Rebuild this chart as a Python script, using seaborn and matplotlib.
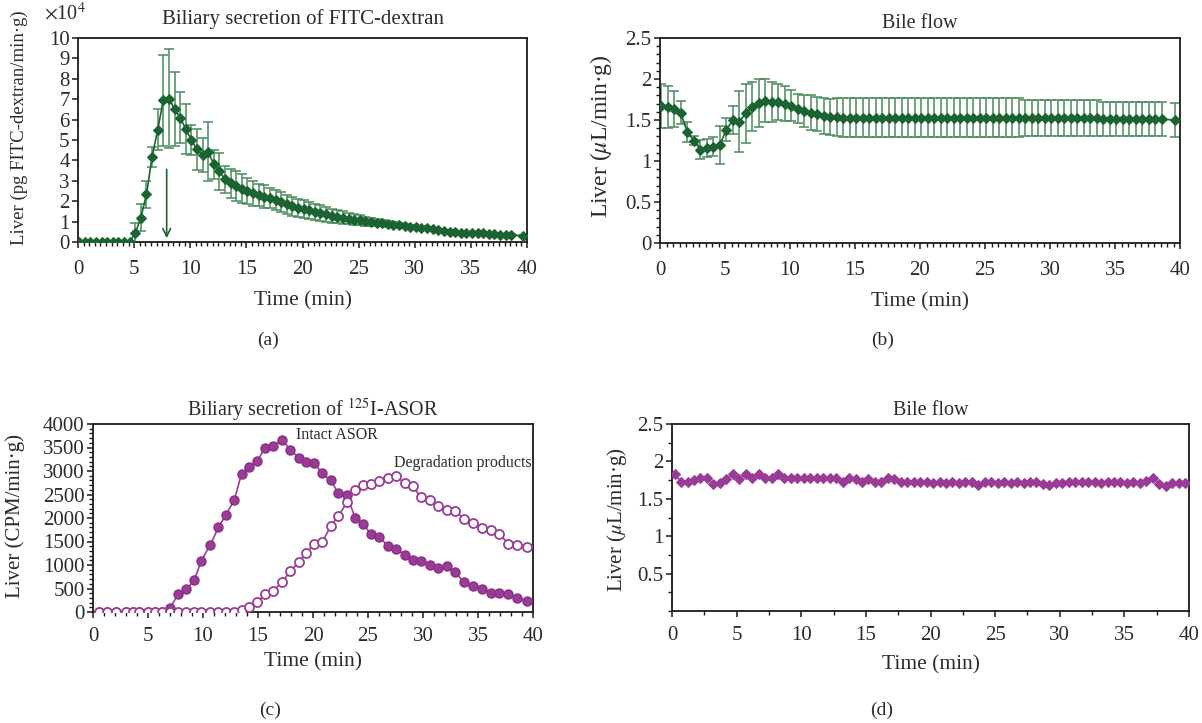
import numpy as np
import matplotlib
matplotlib.use("Agg")
import matplotlib.pyplot as plt
import seaborn as sns
from matplotlib.ticker import MultipleLocator, FuncFormatter, FixedLocator

# ---------------- data ----------------
# (a) biliary secretion of FITC-dextran (x10^4 pg/min.g), mean and error
time_a = [0.1, 0.6, 1.1, 1.6, 2.1, 2.6, 3.1, 3.6, 4.1, 4.6, 5.1, 5.6, 6.1, 6.6, 7.1, 7.6, 8.1, 8.6,
          9.1, 9.6, 10.1, 10.6, 11.1, 11.6, 12.1, 12.6, 13.1, 13.6, 14.1, 14.6, 15.1, 15.6, 16.1,
          16.6, 17.1, 17.6, 18.1, 18.6, 19.1, 19.6, 20.1, 20.6, 21.1, 21.6, 22.1, 22.6, 23.1, 23.6,
          24.1, 24.6, 25.1, 25.6, 26.1, 26.6, 27.1, 27.6, 28.1, 28.6, 29.1, 29.6, 30.1, 30.6, 31.1,
          31.6, 32.1, 32.6, 33.1, 33.6, 34.1, 34.6, 35.1, 35.6, 36.1, 36.6, 37.1, 37.6, 38.1, 38.6,
          39.6]
fitc_mean = [0, 0, 0, 0, 0, 0, 0, 0, 0, 0,
             0.43, 1.2, 2.33, 4.17, 5.5, 6.95, 7.03, 6.53, 6.09, 5.54, 5.0, 4.55, 4.27, 4.42,
             3.81, 3.47, 3.07, 2.87, 2.74, 2.61, 2.49, 2.38, 2.30, 2.22, 2.15, 2.05, 1.95, 1.85,
             1.75, 1.68, 1.62, 1.55, 1.48, 1.42, 1.35, 1.28, 1.24, 1.20, 1.15, 1.10, 1.06, 1.02,
             0.98, 0.95, 0.92, 0.88, 0.84, 0.81, 0.78, 0.75, 0.72, 0.70, 0.67, 0.64, 0.60, 0.55,
             0.50, 0.47, 0.46, 0.45, 0.44, 0.43, 0.42, 0.40, 0.38, 0.36, 0.35, 0.34, 0.30]
fitc_err = [0, 0, 0, 0, 0, 0, 0, 0, 0, 0,
            0.5, 0.64, 0.66, 0.5, 1.0, 2.24, 2.42, 1.82, 1.24, 1.22, 0.75, 1.0, 0.85, 1.45,
            0.7, 0.9, 0.65, 0.7, 0.75, 0.7, 0.65, 0.6, 0.55, 0.55, 0.5, 0.5, 0.48, 0.47, 0.46,
            0.45, 0.44, 0.42, 0.4, 0.38, 0.36, 0.34, 0.32, 0.3, 0.28, 0.26, 0.24, 0.22, 0.2,
            0.17, 0.15, 0.13, 0.12, 0.1, 0.09, 0.08, 0.07, 0.06, 0.05, 0.05, 0.04, 0.04,
            0.04, 0.04, 0.04, 0.04, 0.04, 0.04, 0.03, 0.03, 0.03, 0.03, 0.03, 0.03, 0.03]
arrow_time = 7.9

# (b) bile flow during FITC-dextran (uL/min.g)
time_b = time_a
flow_b_mean = [1.675, 1.66, 1.63, 1.59, 1.35, 1.25, 1.14, 1.155, 1.175, 1.195,
               1.38, 1.50, 1.48, 1.58, 1.66, 1.71, 1.735, 1.72, 1.715, 1.70,
               1.675, 1.64, 1.61, 1.59, 1.57, 1.55, 1.54, 1.535,
               1.53, 1.53, 1.53, 1.53, 1.53, 1.53, 1.53, 1.53, 1.53, 1.53, 1.53, 1.53, 1.53, 1.53,
               1.53, 1.53, 1.53, 1.53, 1.53, 1.53, 1.53, 1.53, 1.53, 1.53, 1.53, 1.53, 1.53, 1.53,
               1.52, 1.52, 1.52, 1.52, 1.52, 1.52, 1.52, 1.52, 1.52, 1.52, 1.52, 1.52,
               1.51, 1.51, 1.51, 1.51, 1.51, 1.51, 1.51, 1.51, 1.51, 1.51, 1.50]
flow_b_err = [0.27, 0.26, 0.22, 0.14, 0.12, 0.05, 0.12, 0.11, 0.12, 0.23,
              0.14, 0.17, 0.37, 0.36, 0.30, 0.29, 0.265, 0.24, 0.22, 0.21,
              0.19, 0.18, 0.19, 0.21, 0.21, 0.22, 0.22, 0.23,
              0.235, 0.235, 0.235, 0.235, 0.235, 0.235, 0.235, 0.235, 0.235, 0.235, 0.235, 0.235,
              0.235, 0.235, 0.235, 0.235, 0.235, 0.235, 0.235, 0.235, 0.235, 0.235, 0.235, 0.235,
              0.235, 0.235, 0.235, 0.235,
              0.22, 0.22, 0.22, 0.22, 0.22, 0.22, 0.22, 0.22, 0.22, 0.22, 0.22, 0.22,
              0.21, 0.21, 0.21, 0.21, 0.21, 0.21, 0.21, 0.21, 0.21, 0.21, 0.21]

# (c) biliary secretion of 125I-ASOR (CPM/min.g)
time_c = [0.5, 1.25, 2.1, 3.0, 3.6, 4.2, 5.0, 5.65, 6.3, 7.0, 7.75, 8.45, 9.2, 9.85, 10.65,
          11.4, 12.1, 12.85, 13.5, 14.2, 14.95, 15.65, 16.4, 17.2, 17.95, 18.7, 19.4, 20.06,
          20.85, 21.6, 22.3, 23.07, 23.83, 24.5, 25.28, 26.03, 26.78, 27.5, 28.35, 29.07, 29.83,
          30.62, 31.37, 32.15, 32.94, 33.7, 34.5, 35.33, 36.14, 36.9, 37.76, 38.55, 39.45]
intact_asor = [0, 0, 0, 0, 0, 0, 0, 0, 0,
               92, 375, 480, 671, 1095, 1420, 1802, 2070, 2390, 2940, 3095, 3215, 3500, 3540,
               3660, 3450, 3285, 3190, 3170, 2954, 2798, 2530, 2500, 2000, 1880, 1660, 1597,
               1413, 1343, 1223, 1117, 1081, 996, 940, 975, 848, 636, 551, 480, 410, 410, 375,
               304, 233]
degradation = [0, 0, 0, 0, 0, 0, 0, 0, 0, 0, 0, 0, 0, 0, 0, 0, 0, 0,
               42, 106, 212, 375, 445, 643, 870, 1060, 1250, 1440, 1491, 1823, 2035, 2332,
               2600, 2692, 2728, 2791, 2848, 2898, 2742, 2671, 2438, 2375, 2247, 2162, 2155,
               1979, 1894, 1788, 1753, 1668, 1456, 1435, 1385]
label_intact = "Intact ASOR"
label_degr = "Degradation products"

# (d) bile flow during ASOR (uL/min.g)
time_d = [0.2, 0.7, 1.2, 1.7, 2.2, 2.7, 3.2, 3.7, 4.2, 4.7, 5.2, 5.7, 6.2, 6.7, 7.2, 7.7, 8.2,
          8.7, 9.2, 9.7, 10.2, 10.7, 11.2, 11.7, 12.2, 12.7, 13.2, 13.7, 14.2, 14.7, 15.2, 15.7,
          16.2, 16.7, 17.2, 17.7, 18.2, 18.7, 19.2, 19.7, 20.2, 20.7, 21.2, 21.7, 22.2, 22.7,
          23.2, 23.7, 24.2, 24.7, 25.2, 25.7, 26.2, 26.7, 27.2, 27.7, 28.2, 28.7, 29.2, 29.7,
          30.2, 30.7, 31.2, 31.7, 32.2, 32.7, 33.2, 33.7, 34.2, 34.7, 35.2, 35.7, 36.2, 36.7,
          37.2, 37.7, 38.2, 38.7, 39.2, 39.7]
flow_d = [1.83, 1.73, 1.73, 1.75, 1.78, 1.78, 1.70, 1.71, 1.76, 1.83,
          1.77, 1.83, 1.78, 1.83, 1.78, 1.78, 1.83, 1.78, 1.78, 1.78,
          1.78, 1.78, 1.78, 1.78, 1.78, 1.78, 1.73, 1.78, 1.76, 1.72,
          1.77, 1.72, 1.73, 1.78, 1.77, 1.73, 1.73, 1.73, 1.73, 1.73,
          1.71, 1.73, 1.71, 1.73, 1.71, 1.73, 1.72, 1.69, 1.73, 1.73,
          1.71, 1.73, 1.71, 1.73, 1.71, 1.73, 1.72, 1.70, 1.68, 1.71,
          1.71, 1.73, 1.73, 1.73, 1.73, 1.73, 1.71, 1.73, 1.72, 1.73,
          1.71, 1.72, 1.71, 1.74, 1.78, 1.70, 1.67, 1.71, 1.71, 1.71]

# ---------------- style ----------------
sns.set_theme(style="ticks")
plt.rcParams["font.family"] = ["Liberation Serif", "DejaVu Serif"]
plt.rcParams["mathtext.fontset"] = "stix"
TXT = "#2b2b2b"
GREEN = "#1b6331"
GREEN_ERR = "#4a8a5b"
PURPLE = "#9a3c96"
TT = 14.5    # titles
XL = 15.5    # x labels
TK = 15      # tick labels

W, H = 1202, 723
fig = plt.figure(figsize=(W / 100, H / 100), dpi=100)
fig.patch.set_facecolor("white")


def box(l, t, r, b):
    return [l / W, 1 - b / H, (r - l) / W, (b - t) / H]


axA = fig.add_axes(box(78, 38, 527, 242))
axB = fig.add_axes(box(660, 38, 1180, 243))
axC = fig.add_axes(box(93, 424, 533, 612))
axD = fig.add_axes(box(672, 424, 1189, 611))

gfmt = FuncFormatter(lambda v, p: f"{v:g}")


def style(ax, xpad=7):
    for s in ax.spines.values():
        s.set_linewidth(1.3)
        s.set_color("#1a1a1a")
        s.set_visible(True)
    ax.tick_params(which="major", direction="out", length=4, width=1.1,
                   labelsize=TK, colors="#1a1a1a", labelcolor=TXT)
    ax.tick_params(which="minor", direction="out", length=3, width=1.0, colors="#1a1a1a")
    ax.tick_params(axis="x", which="major", pad=xpad)
    ax.tick_params(axis="y", which="major", pad=2)
    ax.tick_params(top=False, right=False)
    ax.set_facecolor("white")
    ax.grid(False)


# ---- (a) ----
ax = axA
ax.errorbar(time_a, fitc_mean, yerr=fitc_err, fmt="none", ecolor=GREEN_ERR,
            elinewidth=1.1, capsize=3.5, capthick=1.1, zorder=2)
sns.lineplot(x=time_a, y=fitc_mean, ax=ax, color=GREEN, marker="D", markersize=5.5,
             markeredgecolor=GREEN, linewidth=1.2, zorder=3)
ax.annotate("", xy=(arrow_time, 0.05), xytext=(arrow_time, 3.7),
            arrowprops=dict(arrowstyle="->", color=GREEN, lw=1.2, mutation_scale=14))
ax.set_xlim(0, 40)
ax.set_ylim(0, 10)
ax.xaxis.set_major_locator(MultipleLocator(5))
ax.xaxis.set_minor_locator(MultipleLocator(0.5))
ax.yaxis.set_major_locator(MultipleLocator(1))
ax.yaxis.set_major_formatter(gfmt)
ax.set_title("Biliary secretion of FITC-dextran", fontsize=15, color=TXT, pad=10)
ax.set_xlabel("Time (min)", fontsize=XL, color=TXT, labelpad=9)
ax.set_ylabel("Liver (pg FITC-dextran/min·g)", fontsize=13.5, color=TXT)
ax.yaxis.set_label_coords(-0.112, 0.56)
ax.text(-0.075, 1.065, r"$\times$10$^{4}$", transform=ax.transAxes, fontsize=14.5,
        color=TXT, ha="left", va="bottom")
style(ax, xpad=9)

# ---- (b) ----
ax = axB
ax.errorbar(time_b, flow_b_mean, yerr=flow_b_err, fmt="none", ecolor=GREEN_ERR,
            elinewidth=1.1, capsize=3.5, capthick=1.1, zorder=2)
sns.lineplot(x=time_b, y=flow_b_mean, ax=ax, color=GREEN, marker="D", markersize=5.5,
             markeredgecolor=GREEN, linewidth=1.2, zorder=3)
ax.set_xlim(0, 40)
ax.set_ylim(0, 2.5)
ax.xaxis.set_major_locator(MultipleLocator(5))
ax.xaxis.set_minor_locator(MultipleLocator(0.5))
ax.yaxis.set_major_locator(MultipleLocator(0.5))
ax.yaxis.set_minor_locator(MultipleLocator(0.1))
ax.yaxis.set_major_formatter(gfmt)
ax.set_title("Bile flow", fontsize=TT, color=TXT, pad=7.5)
ax.set_xlabel("Time (min)", fontsize=XL, color=TXT, labelpad=9)
ax.set_ylabel(r"Liver ($\mu$L/min·g)", fontsize=17, color=TXT)
ax.yaxis.set_label_coords(-0.088, 0.52)
style(ax, xpad=9)

# ---- (c) ----
ax = axC
sns.lineplot(x=time_c, y=intact_asor, ax=ax, color=PURPLE, marker="o", markersize=6.5,
             markeredgecolor="#8a2f86", markeredgewidth=1.0, linewidth=1.2, zorder=3)
sns.lineplot(x=time_c, y=degradation, ax=ax, color=PURPLE, marker="o", markersize=6.5,
             markerfacecolor="white", markeredgecolor=PURPLE, markeredgewidth=1.3,
             linewidth=1.2, zorder=4)
ax.text(18.5, 3760, label_intact, fontsize=11.5, color=TXT, ha="left", va="center")
ax.text(27.4, 3180, label_degr, fontsize=11.5, color=TXT, ha="left", va="center")
ax.set_xlim(0, 40)
ax.set_ylim(0, 4000)
ax.xaxis.set_major_locator(MultipleLocator(5))
ax.xaxis.set_minor_locator(MultipleLocator(1))
ax.yaxis.set_major_locator(MultipleLocator(500))
ax.yaxis.set_minor_locator(MultipleLocator(100))
ax.yaxis.set_major_formatter(gfmt)
ax.set_title(r"Biliary secretion of $^{125}$I-ASOR", fontsize=TT, color=TXT, pad=5)
ax.set_xlabel("Time (min)", fontsize=XL, color=TXT, labelpad=4)
ax.set_ylabel("Liver (CPM/min·g)", fontsize=15, color=TXT)
ax.yaxis.set_label_coords(-0.155, 0.51)
style(ax)

# ---- (d) ----
ax = axD
sns.lineplot(x=time_d, y=flow_d, ax=ax, color=PURPLE, marker="D", markersize=5.5,
             markeredgecolor=PURPLE, linewidth=1.2, zorder=3)
ax.set_xlim(0, 40)
ax.set_ylim(0, 2.5)
ax.xaxis.set_major_locator(MultipleLocator(5))
ax.xaxis.set_minor_locator(MultipleLocator(2.5))
ax.yaxis.set_major_locator(FixedLocator([0.5, 1, 1.5, 2, 2.5]))
ax.yaxis.set_minor_locator(FixedLocator([0, 0.25, 0.75, 1.25, 1.75, 2.25]))
ax.yaxis.set_major_formatter(gfmt)
ax.set_title("Bile flow", fontsize=TT, color=TXT, pad=6.5)
ax.set_xlabel("Time (min)", fontsize=XL, color=TXT, labelpad=7.5)
ax.set_ylabel(r"Liver ($\mu$L/min·g)", fontsize=15, color=TXT)
ax.yaxis.set_label_coords(-0.083, 0.49)
style(ax)

# panel letters
for lbl, x, y in [("(a)", 268, 340), ("(b)", 883, 340), ("(c)", 270, 710), ("(d)", 882, 710)]:
    fig.text(x / W, 1 - y / H, lbl, fontsize=14, color=TXT, ha="center", va="center")

fig.savefig("out.png", dpi=100, facecolor="white")
